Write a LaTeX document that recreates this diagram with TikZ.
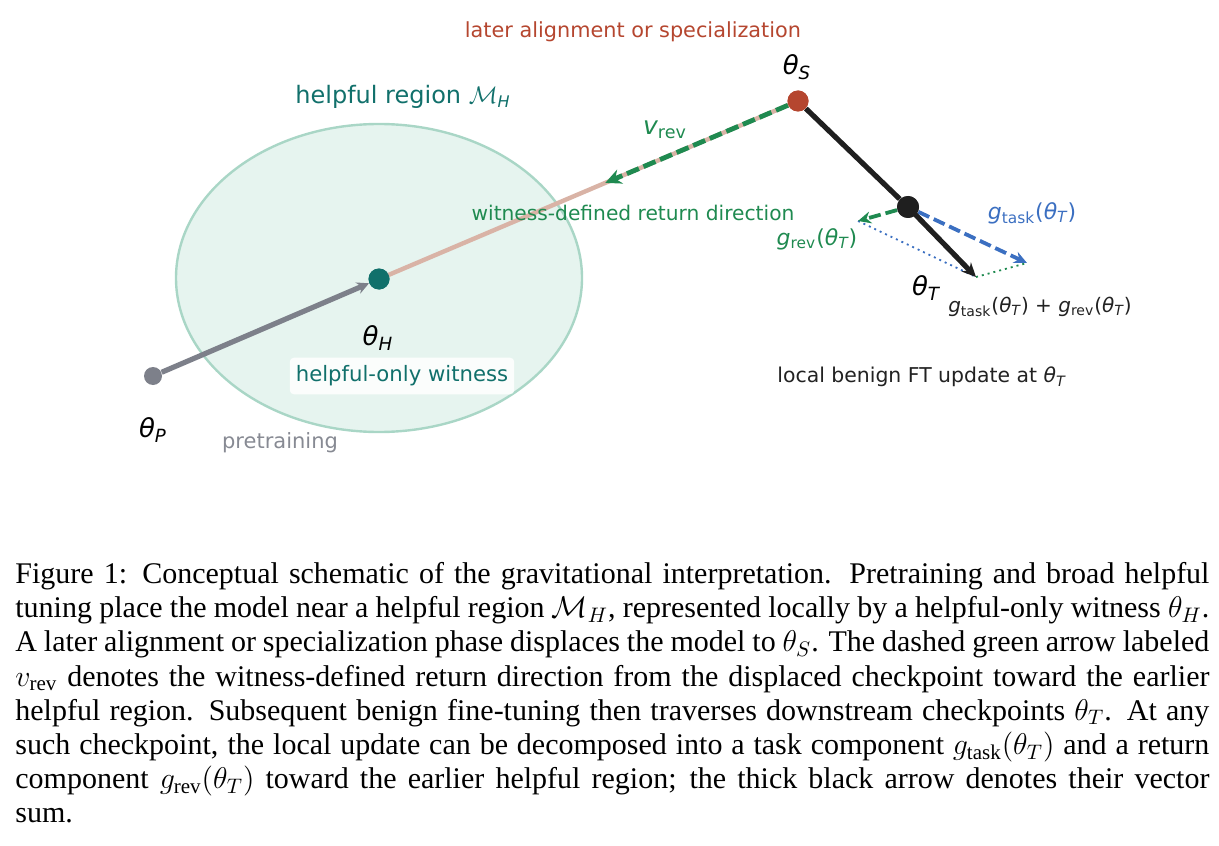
\RequirePackage{fix-cm}
\documentclass[tikz,border=0pt]{standalone}
\usepackage{fontspec}
\setmainfont{Liberation Serif}
\newfontfamily\figfont{DejaVu Sans}
\usetikzlibrary{arrows.meta,calc}
\definecolor{tealtxt}{HTML}{11706B}
\definecolor{regfill}{HTML}{E6F4EF}
\definecolor{regdraw}{HTML}{A9D6C6}
\definecolor{grn}{HTML}{1F8A50}
\definecolor{blu}{HTML}{3B6FC1}
\definecolor{rust}{HTML}{B5462F}
\definecolor{pinkln}{HTML}{D9B3A6}
\definecolor{gry}{HTML}{7D808A}
\definecolor{grytxt}{HTML}{878A93}
\definecolor{dark}{HTML}{222222}
\newcommand\thf{{\itshape θ}}
\newcommand\subi[1]{\textsubscript{\itshape #1}}
\newcommand\subr[1]{\textsubscript{#1}}
\tikzset{
  dot/.style={circle, inner sep=0pt, minimum size=#1},
  lbl/.style={font=\figfont\fontsize{#1}{#1}\selectfont, inner sep=0pt},
  thick line/.style={line width=2.6pt},
}
\begin{document}
\begin{tikzpicture}[x=0.5pt,y=-0.5pt]
\useasboundingbox (0,0) rectangle (1219,845);
% helpful region
\draw[fill=regfill, draw=regdraw, line width=1.2pt] (379,278) ellipse [x radius=203, y radius=154];
% points
\node[dot=9pt, fill=gry] (P) at (153,376) {};
\node[dot=10.5pt, fill=tealtxt] (H) at (379,279) {};
\node[dot=10.5pt, fill=rust] (S) at (798,101) {};
\node[dot=11pt, fill=black!88] (T) at (908,207) {};
\coordinate (vend) at ($(S)!0.46!(H)$);
\coordinate (grev) at (858,221);
\coordinate (gtask) at (1027,263);
\coordinate (gsum) at (976,277);
% return direction line
\draw[pinkln, line width=2.2pt] (H.center) -- (S.center);
% pretraining arrow
\draw[gry, thick line, -{Stealth[length=6pt,width=6pt]}] (P) -- (H);
% v_rev
\draw[grn, line width=2.4pt, dash pattern=on 6.5pt off 2.5pt, -{Stealth[length=8pt,width=7.5pt]}] (S) -- (vend);
% path S -> T
\draw[black!88, thick line] (S) -- (T);
% parallelogram
\draw[blu, line width=0.9pt, dash pattern=on 1pt off 2pt] (grev) -- (gsum);
\draw[grn, line width=0.9pt, dash pattern=on 1pt off 2pt] (gsum) -- (gtask);
\draw[blu, line width=1.9pt, dash pattern=on 6pt off 2.5pt, -{Stealth[length=6.5pt,width=6pt]}] (T) -- (gtask);
\draw[grn, line width=1.9pt, dash pattern=on 6pt off 2.5pt, -{Stealth[length=6.5pt,width=6pt]}] (T) -- (grev);
\draw[black!88, thick line, -{Stealth[length=7pt,width=6.5pt]}] (T.center) -- (gsum);
\node[dot=10.5pt, fill=tealtxt] at (H) {};
\node[dot=10.5pt, fill=rust] at (S) {};
\node[dot=11pt, fill=black!88] at (T) {};
% labels
\node[lbl=10.4, text=rust] (lalign) at (633,32) {later alignment or specialization};
\node[lbl=13, text=black] (lS) at (797,67) {\thf\subi{S}};
\node[lbl=12, text=tealtxt] (lreg) at (403,97) {helpful region $\mathcal{M}$\subi{H}};
\node[lbl=12.5, text=grn] (lvrev) at (665,130) {{\itshape v}\subr{rev}};
\node[lbl=10.1, text=grn] (lwit) at (633,213) {witness-defined return direction};
\node[lbl=11, text=blu] (lgtask) at (1032,213) {{\itshape g}\subr{task}(\thf\subi{T})};
\node[lbl=11, text=grn] (lgrev) at (817,239) {{\itshape g}\subr{rev}(\thf\subi{T})};
\node[lbl=13, text=black] (lT) at (926,288) {\thf\subi{T}};
\node[lbl=10, text=dark] (lsum) at (1040,307) {{\itshape g}\subr{task}(\thf\subi{T}) + {\itshape g}\subr{rev}(\thf\subi{T})};
\node[lbl=10.2, text=dark, anchor=west] (lloc) at (777,377) {local benign FT update at \thf\subi{T}};
\node[lbl=13, text=black] (lH) at (378,338) {\thf\subi{H}};
\node[lbl=10.6, text=tealtxt, fill=white, fill opacity=0.85, text opacity=1, rounded corners=2pt, inner xsep=3pt, inner ysep=4pt] (lwitness) at (402,376) {helpful-only witness};
\node[lbl=13, text=black] (lP) at (153,430) {\thf\subi{P}};
\node[lbl=10.5, text=grytxt] (lpre) at (280,443) {pretraining};
% caption
\node[anchor=north west, text width=597pt, align=justify, inner sep=0pt, font=\fontsize{15}{17.1}\selectfont] (cap) at (15,562) {Figure 1: Conceptual schematic of the gravitational interpretation.  Pretraining and broad helpful\linebreak
tuning place the model near a helpful region $\mathcal{M}_H$, represented locally by a helpful-only witness $\theta_H$.\linebreak
A later alignment or specialization phase displaces the model to $\theta_S$. The dashed green arrow labeled\linebreak
$v_{\mathrm{rev}}$ denotes the witness-defined return direction from the displaced checkpoint toward the earlier\linebreak
helpful region.  Subsequent benign fine-tuning then traverses downstream checkpoints $\theta_T$.  At any\linebreak
such checkpoint, the local update can be decomposed into a task component $g_{\mathrm{task}}(\theta_T)$ and a return\linebreak
component $g_{\mathrm{rev}}(\theta_T)$ toward the earlier helpful region; the thick black arrow denotes their vector\linebreak
sum.};
\end{tikzpicture}
\end{document}
